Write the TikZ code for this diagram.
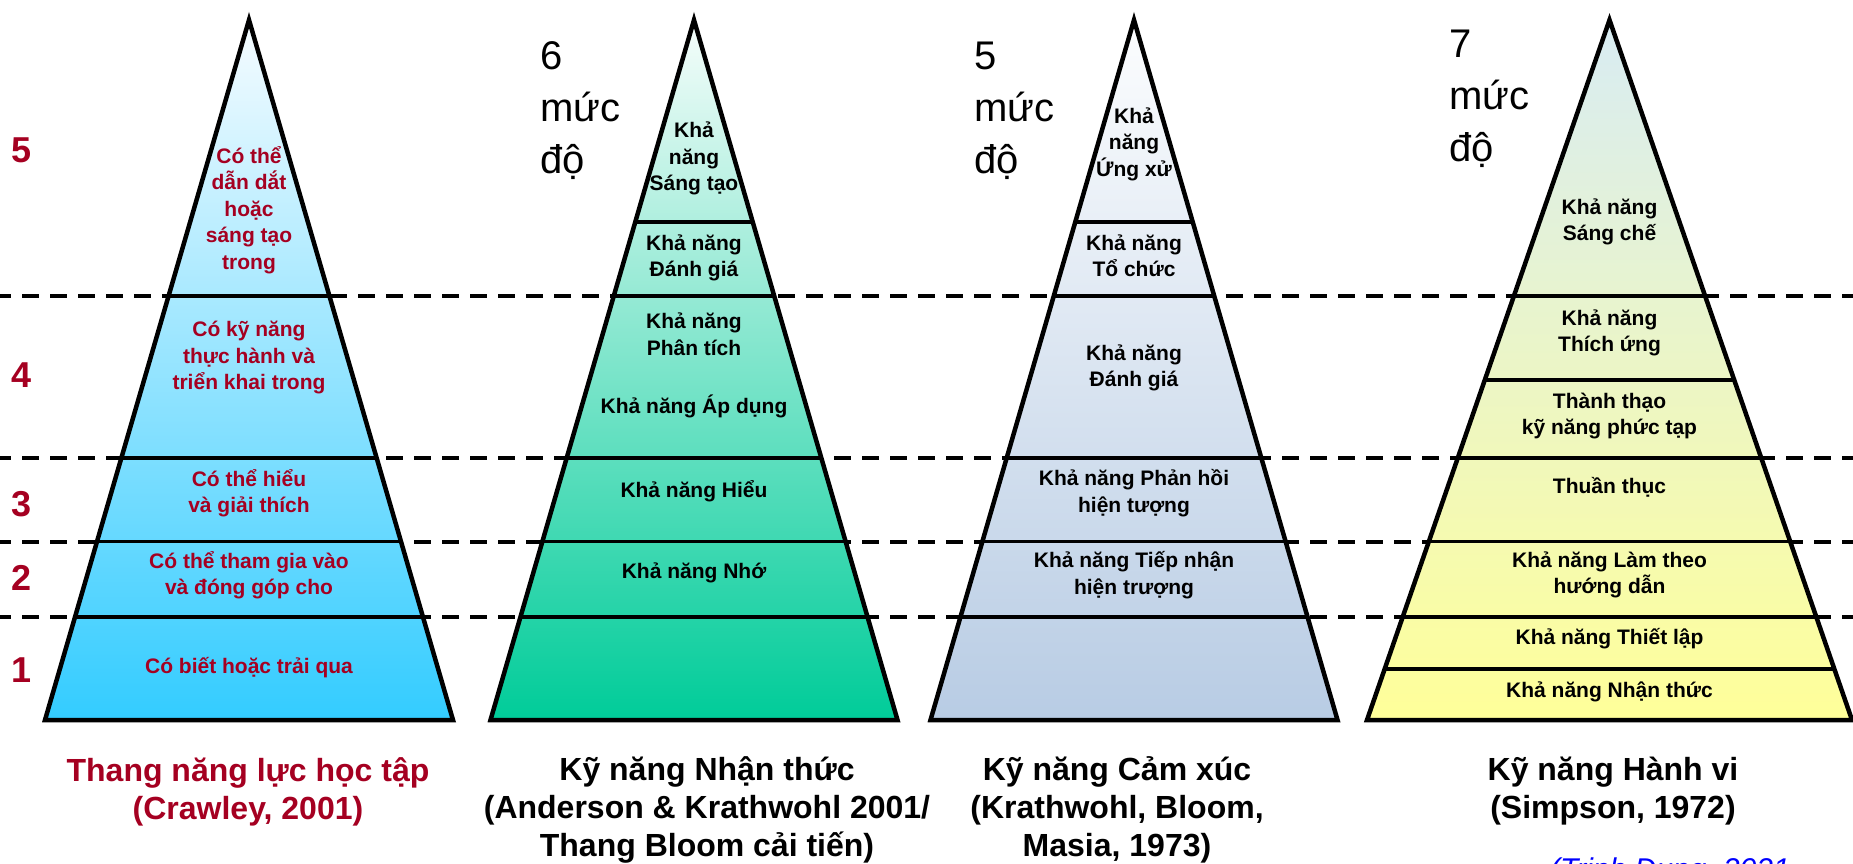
\documentclass[tikz,border=0pt]{standalone}
\usepackage{fontspec}
\setmainfont{Liberation Sans}
\usetikzlibrary{calc}
\definecolor{crimson}{HTML}{A50021}
\definecolor{cyantop}{HTML}{F6FCFF}
\definecolor{cyanmid}{HTML}{CCF1FF}
\definecolor{cyanbot}{HTML}{33CCFF}
\definecolor{tealtop}{HTML}{F6FDFB}
\definecolor{tealmid}{HTML}{C2F0E3}
\definecolor{tealbot}{HTML}{00CC99}
\definecolor{steeltop}{HTML}{FCFDFE}
\definecolor{steelmid}{HTML}{E6EDF6}
\definecolor{steelbot}{HTML}{B8CCE4}
\definecolor{yellowtop}{HTML}{D8ECF3}
\definecolor{yellowmid}{HTML}{F3F6D8}
\definecolor{yellowbot}{HTML}{FFFF99}
\tikzset{
  dashline/.style={line width=4pt, dash pattern=on 17pt off 11pt, dash phase=6pt},
  outline/.style={line width=4.5pt, line join=miter},
  tier/.style={line width=3.5pt},
  lvltext/.style={font=\fontsize{21}{26.5}\selectfont\bfseries, align=center, inner sep=0pt},
  lvlnum/.style={font=\fontsize{36}{40}\selectfont\bfseries, text=crimson, inner sep=0pt},
  count/.style={font=\fontsize{40}{52}\selectfont, align=left, anchor=north west, inner sep=0pt},
  title/.style={font=\fontsize{32}{38}\selectfont\bfseries, align=center, inner sep=0pt},
}
% horizontal tier inside pyramid #1 at height #2
\newcommand{\tierline}[2]{\draw[tier] ($(#1a)!{(#2-\ya)/(\yb-\ya)}!(#1l)$) -- ($(#1a)!{(#2-\ya)/(\yb-\ya)}!(#1r)$);}
\begin{document}
\begin{tikzpicture}[x=1pt, y=-1pt]
	\def\ya{20}
	\def\yb{720}
	\useasboundingbox (0,0) rectangle (1853,864);
	% dashed level lines
	\foreach \y in {296,458,541.5,617}
		\draw[dashline] (0,\y) -- (1853,\y);
	% pyramid corners
	\coordinate (p1a) at (249,\ya); \coordinate (p1l) at (45,\yb); \coordinate (p1r) at (453,\yb);
	\coordinate (p2a) at (694,\ya); \coordinate (p2l) at (490.5,\yb); \coordinate (p2r) at (897.5,\yb);
	\coordinate (p3a) at (1134,\ya); \coordinate (p3l) at (930.5,\yb); \coordinate (p3r) at (1337.5,\yb);
	\coordinate (p4a) at (1609.5,\ya); \coordinate (p4l) at (1367,\yb); \coordinate (p4r) at (1852,\yb);
	\shade[top color=cyantop, middle color=cyanmid, bottom color=cyanbot] (p1a) -- (p1l) -- (p1r) -- cycle;
	\shade[top color=tealtop, middle color=tealmid, bottom color=tealbot] (p2a) -- (p2l) -- (p2r) -- cycle;
	\shade[top color=steeltop, middle color=steelmid, bottom color=steelbot] (p3a) -- (p3l) -- (p3r) -- cycle;
	\shade[top color=yellowtop, middle color=yellowmid, bottom color=yellowbot] (p4a) -- (p4l) -- (p4r) -- cycle;
	% tiers
	\foreach \y in {296,458,541.5,617} {\tierline{p1}{\y}}
	\foreach \y in {222,296,458,541.5,617} {\tierline{p2}{\y}}
	\foreach \y in {222,296,458,541.5,617} {\tierline{p3}{\y}}
	\foreach \y in {296,380,458,541.5,617,669} {\tierline{p4}{\y}}
	\foreach \p in {p1,p2,p3,p4}
		\draw[outline] (\p a) -- (\p l) -- (\p r) -- cycle;
	% level numbers
	\foreach \n/\y in {5/150,4/375,3/504,2/578,1/670}
		\node[lvlnum] (num\n) at (22,\y) {\n};
	% Crawley
	\node[lvltext, text=crimson] (p1t5) at (249,210) {Có thể\\dẫn dắt\\hoặc\\sáng tạo\\trong};
	\node[lvltext, text=crimson] (p1t4) at (249,358) {Có kỹ năng\\thực hành và\\triển khai trong};
	\node[lvltext, text=crimson] (p1t3) at (249,493) {Có thể hiểu\\và giải thích};
	\node[lvltext, text=crimson] (p1t2) at (249,575) {Có thể tham gia vào\\và đóng góp cho};
	\node[lvltext, text=crimson] (p1t1) at (249,668) {Có biết hoặc trải qua};
	% Nhan thuc
	\node[count] (p2count) at (540,41.5) {6\\mức\\độ};
	\node[lvltext] (p2t6) at (694,158.5) {Khả\\năng\\Sáng tạo};
	\node[lvltext] (p2t5) at (694,258) {Khả năng\\Đánh giá};
	\node[lvltext] (p2t4) at (694,334.5) {Khả năng\\Phân tích};
	\node[lvltext] (p2t3) at (694,406) {Khả năng Áp dụng};
	\node[lvltext] (p2t2) at (694,491.5) {Khả năng Hiểu};
	\node[lvltext] (p2t1) at (694,573) {Khả năng Nhớ};
	% Cam xuc
	\node[count] (p3count) at (974,41.5) {5\\mức\\độ};
	\node[lvltext] (p3t5) at (1134,144) {Khả\\năng\\Ứng xử};
	\node[lvltext] (p3t4) at (1134,255.6) {Khả năng\\Tổ chức};
	\node[lvltext] (p3t3) at (1134,368) {Khả năng\\Đánh giá};
	\node[lvltext] (p3t2) at (1134,493) {Khả năng Phản hồi\\hiện tượng};
	\node[lvltext] (p3t1) at (1134,575) {Khả năng Tiếp nhận\\hiện trượng};
	% Hanh vi
	\node[count] (p4count) at (1449,29.5) {7\\mức\\độ};
	\node[lvltext] (p4t7) at (1609.5,222) {Khả năng\\Sáng chế};
	\node[lvltext] (p4t6) at (1609.5,333) {Khả năng\\Thích ứng};
	\node[lvltext] (p4t5) at (1609.5,416) {Thành thạo\\kỹ năng phức tạp};
	\node[lvltext] (p4t4) at (1609.5,487) {Thuần thục};
	\node[lvltext] (p4t3) at (1609.5,575) {Khả năng Làm theo\\hướng dẫn};
	\node[lvltext] (p4t2) at (1609.5,639) {Khả năng Thiết lập};
	\node[lvltext] (p4t1) at (1609.5,691.5) {Khả năng Nhận thức};
	% titles
	\node[title, text=crimson] (title1) at (248,791.5) {Thang năng lực học tập\\(Crawley, 2001)};
	\node[title] (title2) at (707,810) {Kỹ năng Nhận thức\\(Anderson \& Krathwohl 2001/\\Thang Bloom cải tiến)};
	\node[title] (title3) at (1117,810) {Kỹ năng Cảm xúc\\(Krathwohl, Bloom,\\Masia, 1973)};
	\node[title] (title4) at (1613,791.5) {Kỹ năng Hành vi\\(Simpson, 1972)};
	\node[font=\fontsize{30}{36}\selectfont\itshape, text=blue, anchor=base west, inner sep=0pt] (cite) at (1550,879.5) {(Trịnh Dung, 2021};
\end{tikzpicture}
\end{document}
